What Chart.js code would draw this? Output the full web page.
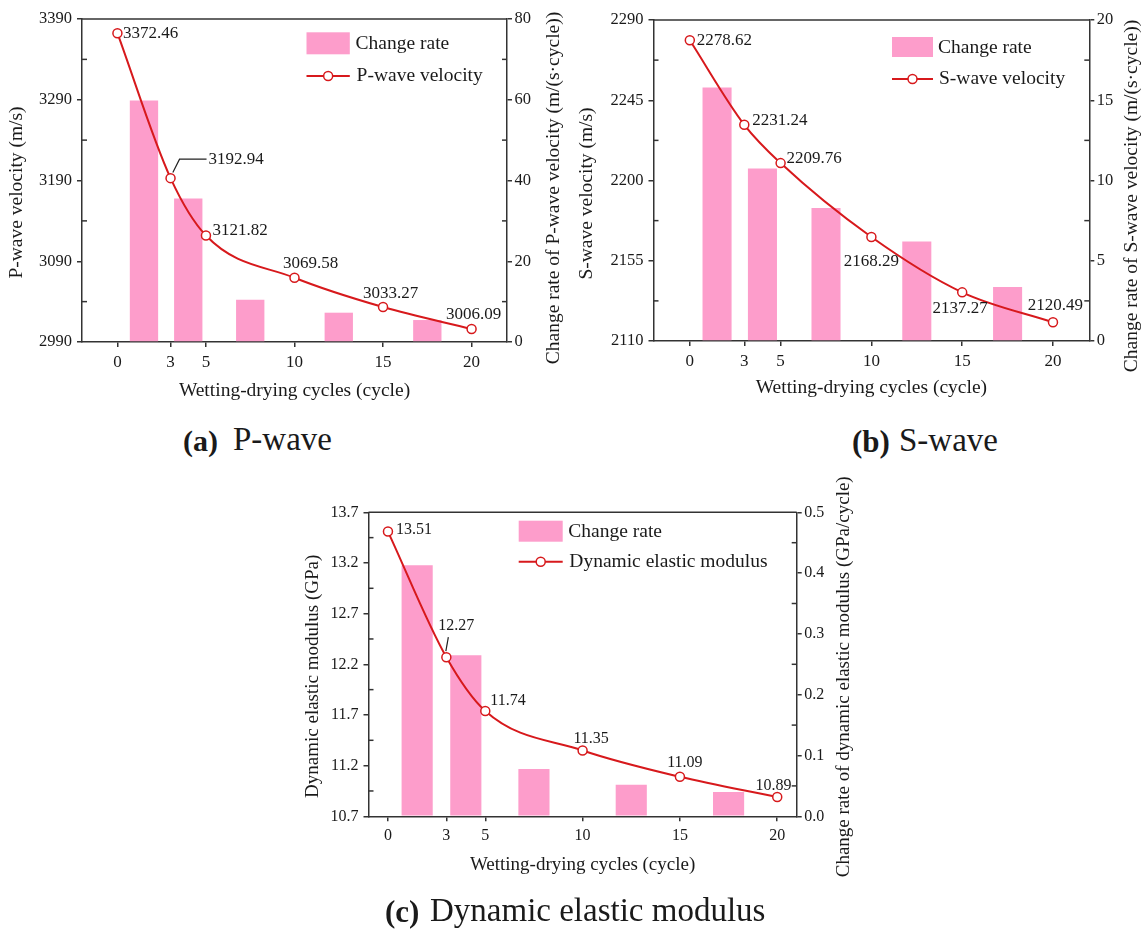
<!DOCTYPE html>
<html>
<head>
<meta charset="utf-8">
<script src="https://cdn.jsdelivr.net/npm/chart.js@4.4.0/dist/chart.umd.min.js"></script>
<style>
  body { margin: 0; background: #fff; width: 1145px; height: 931px; position: relative; overflow: hidden; font-family: 'Liberation Serif', 'Times New Roman', serif; color: #1a1a1a; }
  canvas { position: absolute; }
  .cap { position: absolute; white-space: nowrap; line-height: 1; }
</style>
</head>
<body>
<canvas id="chartA" width="575" height="415" style="left:0;top:0"></canvas>
<canvas id="chartB" width="575" height="415" style="left:570px;top:0"></canvas>
<canvas id="chartC" width="580" height="461" style="left:290px;top:470px"></canvas>

<div class="cap" style="left:183px;top:426px;font-size:30px;font-weight:bold">(a)</div>
<div class="cap" style="left:233px;top:423px;font-size:33px">P-wave</div>
<div class="cap" style="left:852px;top:426px;font-size:31px;font-weight:bold">(b)</div>
<div class="cap" style="left:899px;top:424px;font-size:33px">S-wave</div>
<div class="cap" style="left:385px;top:896px;font-size:31px;font-weight:bold">(c)</div>
<div class="cap" style="left:430px;top:894px;font-size:33px">Dynamic elastic modulus</div>

<script>
// wetting-drying cycles where the measurements were taken
const cycles = [0, 3, 5, 10, 15, 20];
// change-rate bars sit between the measured cycles
const barCenters = [1.5, 4, 7.5, 12.5, 17.5];
const xTickValues = [0, 3, 5, 10, 15, 20];

const pVelocity = [3372.46, 3192.94, 3121.82, 3069.58, 3033.27, 3006.09];
const pRate = [59.84, 35.56, 10.45, 7.26, 5.44];
const pTicks = [2990, 3090, 3190, 3290, 3390];
const pRateTicks = [0, 20, 40, 60, 80];

const sVelocity = [2278.62, 2231.24, 2209.76, 2168.29, 2137.27, 2120.49];
const sRate = [15.79, 10.74, 8.29, 6.20, 3.36];
const sTicks = [2110, 2155, 2200, 2245, 2290];
const sRateTicks = [0, 5, 10, 15, 20];

const modulus = [13.51, 12.27, 11.74, 11.35, 11.09, 10.89];
const modulusRate = [0.413, 0.265, 0.078, 0.052, 0.040];
const modulusTicks = [10.7, 11.2, 11.7, 12.2, 12.7, 13.2, 13.7];
const modulusRateTicks = [0, 0.1, 0.2, 0.3, 0.4, 0.5];

const fontFamily = '"Liberation Serif", "Times New Roman", serif';
const axisColor = '#333';
const textColor = '#1a1a1a';
const lineColor = '#d7191c';
const barColor = 'rgb(253,157,203)';

const decorPlugin = (spec) => ({
    id: 'decor',
    afterDraw(chart) {
        const { ctx, chartArea: area, scales } = chart;
        ctx.save();

        // top frame line
        ctx.strokeStyle = axisColor;
        ctx.lineWidth = 1.5;
        ctx.beginPath();
        ctx.moveTo(area.left, area.top);
        ctx.lineTo(area.right, area.top);
        ctx.stroke();

        // minor ticks, pointing inwards
        [['y', 1], ['y1', -1]].forEach(([id, dir]) => {
            const s = scales[id];
            const x0 = dir > 0 ? area.left : area.right;
            for (let i = 1; i < s.ticks.length; i++) {
                const py = s.getPixelForValue((s.ticks[i - 1].value + s.ticks[i].value) / 2);
                ctx.beginPath();
                ctx.moveTo(x0, py);
                ctx.lineTo(x0 + dir * 5, py);
                ctx.stroke();
            }
        });

        // axis titles
        ctx.fillStyle = textColor;
        ctx.font = `${spec.titleSize}px ${fontFamily}`;
        ctx.textAlign = 'center';
        ctx.textBaseline = 'middle';
        ctx.fillText('Wetting-drying cycles (cycle)', (area.left + area.right) / 2, spec.xTitleY);
        const midY = (area.top + area.bottom) / 2;
        const rotated = (text, x, y) => {
            ctx.save();
            ctx.translate(x, y);
            ctx.rotate(-Math.PI / 2);
            ctx.fillText(text, 0, 0);
            ctx.restore();
        };
        rotated(spec.yTitle, spec.yTitleX, midY + spec.yTitleShift);
        rotated(spec.y1Title, spec.y1TitleX, midY + spec.y1TitleShift);

        // legend
        const lg = spec.legend;
        ctx.fillStyle = barColor;
        ctx.fillRect(lg.x, lg.y, lg.w, lg.h);
        ctx.strokeStyle = lineColor;
        ctx.lineWidth = 2;
        ctx.beginPath();
        ctx.moveTo(lg.x, lg.row2);
        ctx.lineTo(lg.x + lg.w, lg.row2);
        ctx.stroke();
        ctx.fillStyle = '#fff';
        ctx.lineWidth = 1.5;
        ctx.beginPath();
        ctx.arc(lg.x + lg.w / 2, lg.row2, 4.5, 0, Math.PI * 2);
        ctx.fill();
        ctx.stroke();
        ctx.fillStyle = textColor;
        ctx.font = `${spec.legendSize}px ${fontFamily}`;
        ctx.textAlign = 'left';
        ctx.fillText('Change rate', lg.textX, lg.row1);
        ctx.fillText(spec.seriesName, lg.textX + 1, lg.row2);

        // value labels next to the points
        const pts = chart.getDatasetMeta(0).data;
        ctx.font = `${spec.labelSize}px ${fontFamily}`;
        spec.labels.forEach((lb, i) => {
            const p = pts[i];
            if (lb.leader) {
                ctx.strokeStyle = '#222';
                ctx.lineWidth = 1.2;
                ctx.beginPath();
                lb.leader.forEach(([dx, dy], k) => {
                    if (k === 0) ctx.moveTo(p.x + dx, p.y + dy);
                    else ctx.lineTo(p.x + dx, p.y + dy);
                });
                ctx.stroke();
            }
            ctx.fillStyle = textColor;
            ctx.textAlign = lb.align;
            ctx.fillText(spec.line[i].toFixed(2), p.x + lb.dx, p.y + lb.dy);
        });

        ctx.restore();
    }
});

const makeChart = (canvasId, spec) => {
    const ctx = document.getElementById(canvasId).getContext('2d');
    const tickFont = (size) => ({ family: fontFamily, size: size });
    const grid = { drawOnChartArea: false, drawTicks: true, tickLength: 5, color: axisColor, lineWidth: 1.5, offset: false };
    const border = { color: axisColor, width: 1.5 };

    return new Chart(ctx, {
        type: 'bar',
        data: {
            datasets: [{
                type: 'line',
                label: spec.seriesName,
                data: cycles.map((c, i) => ({ x: c, y: spec.line[i] })),
                yAxisID: 'y',
                borderColor: lineColor,
                borderWidth: 2,
                cubicInterpolationMode: 'monotone',
                pointRadius: 4.5,
                pointBorderWidth: 1.5,
                pointBackgroundColor: '#fff',
                pointBorderColor: lineColor,
                order: 0
            }, {
                type: 'bar',
                label: 'Change rate',
                data: barCenters.map((c, i) => ({ x: c, y: spec.rate[i] })),
                yAxisID: 'y1',
                backgroundColor: barColor,
                barPercentage: 1,
                categoryPercentage: 0.8,
                order: 1
            }]
        },
        options: {
            responsive: false,
            animation: false,
            layout: { padding: { top: spec.padTop, left: 0, right: 0, bottom: 0 } },
            plugins: { legend: { display: false }, tooltip: { enabled: false } },
            scales: {
                x: {
                    type: 'linear',
                    offset: false,
                    min: spec.xRange[0],
                    max: spec.xRange[1],
                    afterBuildTicks: (s) => { s.ticks = xTickValues.map(v => ({ value: v })); },
                    afterFit: (s) => { s.height = spec.xHeight; },
                    ticks: { autoSkip: false, maxRotation: 0, padding: 5, color: textColor, font: tickFont(spec.xTickSize), callback: (v) => String(v) },
                    grid: grid,
                    border: border
                },
                y: {
                    position: 'left',
                    min: spec.yTicks[0],
                    max: spec.yTicks[spec.yTicks.length - 1],
                    afterBuildTicks: (s) => { s.ticks = spec.yTicks.map(v => ({ value: v })); },
                    afterFit: (s) => { s.width = spec.yWidth; },
                    ticks: { padding: 5, color: textColor, font: tickFont(spec.yTickSize), callback: (v) => v.toFixed(spec.yDecimals) },
                    grid: grid,
                    border: border
                },
                y1: {
                    position: 'right',
                    min: spec.y1Ticks[0],
                    max: spec.y1Ticks[spec.y1Ticks.length - 1],
                    afterBuildTicks: (s) => { s.ticks = spec.y1Ticks.map(v => ({ value: v })); },
                    afterFit: (s) => { s.width = spec.y1Width; },
                    ticks: { padding: 2.5, color: textColor, font: tickFont(spec.yTickSize), callback: (v) => v.toFixed(spec.y1Decimals) },
                    grid: grid,
                    border: border
                }
            }
        },
        plugins: [decorPlugin(spec)]
    });
};

makeChart('chartA', {
    line: pVelocity, rate: pRate, yTicks: pTicks, y1Ticks: pRateTicks,
    yDecimals: 0, y1Decimals: 0, xRange: [-2, 22],
    seriesName: 'P-wave velocity',
    yTitle: 'P-wave velocity (m/s)',
    y1Title: 'Change rate of P-wave velocity (m/(s\u00B7cycle))',
    padTop: 19, yWidth: 82, y1Width: 68, xHeight: 73,
    xTickSize: 17, yTickSize: 16.5, titleSize: 19.5, legendSize: 19.5, labelSize: 17,
    xTitleY: 391, yTitleX: 16.7, yTitleShift: 12, y1TitleX: 554, y1TitleShift: 7.5,
    legend: { x: 306.5, y: 32.3, w: 43.3, h: 22, row1: 44, row2: 76, textX: 355.6 },
    labels: [
        { dx: 5.5, dy: 0, align: 'left' },
        { dx: 38, dy: -19, align: 'left', leader: [[2.3, -5.6], [9, -19], [36, -19]] },
        { dx: 6.5, dy: -5, align: 'left' },
        { dx: 16, dy: -14, align: 'center' },
        { dx: 7.6, dy: -14, align: 'center' },
        { dx: 2, dy: -14, align: 'center' }
    ]
});

makeChart('chartB', {
    line: sVelocity, rate: sRate, yTicks: sTicks, y1Ticks: sRateTicks,
    yDecimals: 0, y1Decimals: 0, xRange: [-2, 22],
    seriesName: 'S-wave velocity',
    yTitle: 'S-wave velocity (m/s)',
    y1Title: 'Change rate of S-wave velocity (m/(s\u00B7cycle))',
    padTop: 20, yWidth: 83.5, y1Width: 55.7, xHeight: 74,
    xTickSize: 17, yTickSize: 16.5, titleSize: 19.5, legendSize: 19.5, labelSize: 17,
    xTitleY: 388, yTitleX: 16.7, yTitleShift: 13, y1TitleX: 562, y1TitleShift: 15.5,
    legend: { x: 322, y: 37, w: 41, h: 20, row1: 48, row2: 79, textX: 368 },
    labels: [
        { dx: 7, dy: 0, align: 'left' },
        { dx: 8, dy: -4, align: 'left' },
        { dx: 6, dy: -5, align: 'left' },
        { dx: 0, dy: 24, align: 'center' },
        { dx: -2, dy: 16, align: 'center' },
        { dx: 2.4, dy: -17, align: 'center' }
    ]
});

makeChart('chartC', {
    line: modulus, rate: modulusRate, yTicks: modulusTicks, y1Ticks: modulusRateTicks,
    yDecimals: 1, y1Decimals: 1, xRange: [-1, 21],
    seriesName: 'Dynamic elastic modulus',
    yTitle: 'Dynamic elastic modulus (GPa)',
    y1Title: 'Change rate of dynamic elastic modulus (GPa/cycle)',
    padTop: 42.3, yWidth: 78.5, y1Width: 73.3, xHeight: 114.7,
    xTickSize: 16, yTickSize: 16, titleSize: 19, legendSize: 19.5, labelSize: 16,
    xTitleY: 395, yTitleX: 23.3, yTitleShift: 12, y1TitleX: 554, y1TitleShift: 12.5,
    legend: { x: 228.7, y: 50.7, w: 44, h: 21, row1: 61.5, row2: 91.7, textX: 278.3 },
    labels: [
        { dx: 8, dy: -2, align: 'left' },
        { dx: 10, dy: -31, align: 'center', leader: [[-0.5, -6], [2, -20]] },
        { dx: 5, dy: -10, align: 'left' },
        { dx: 8.5, dy: -12, align: 'center' },
        { dx: 5, dy: -14, align: 'center' },
        { dx: -3.8, dy: -11.6, align: 'center' }
    ]
});
</script>
</body>
</html>
